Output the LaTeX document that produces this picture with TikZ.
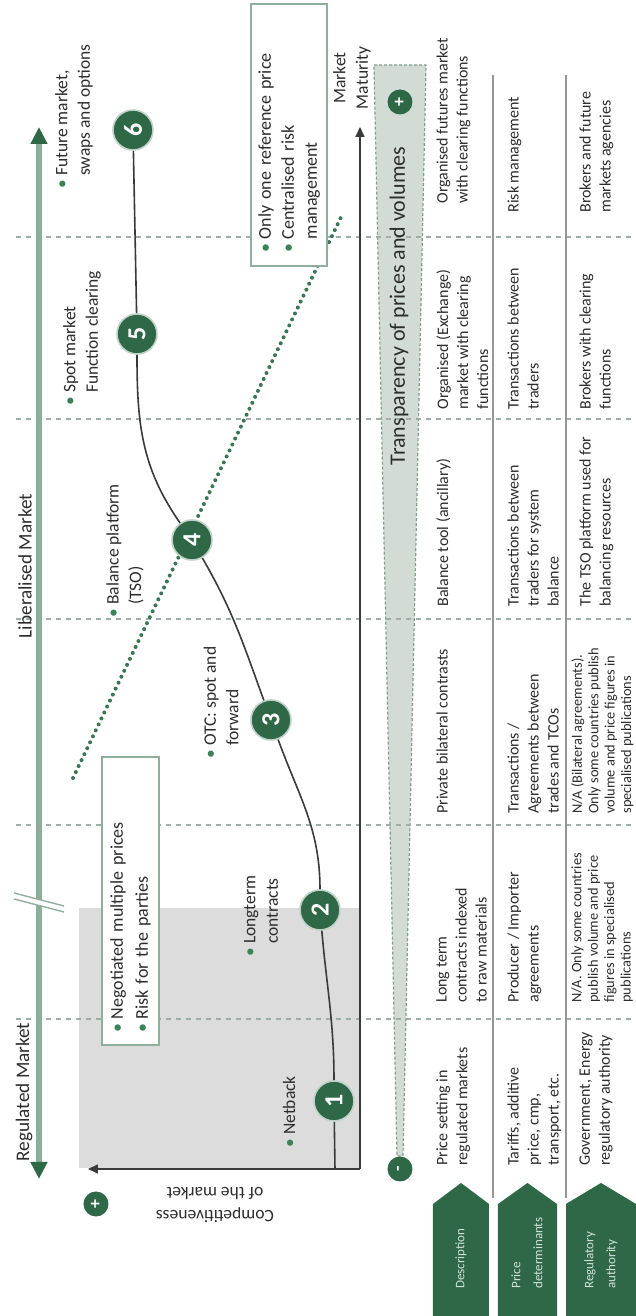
\documentclass[tikz,border=0pt]{standalone}
\usepackage{fontspec}
\setmainfont{Carlito}
\usetikzlibrary{arrows.meta}

\definecolor{dkgreen}{RGB}{46,104,70}
\definecolor{shaftgreen}{RGB}{141,174,154}
\definecolor{edgegreen}{RGB}{143,175,156}
\definecolor{bulgreen}{RGB}{58,130,88}
\definecolor{dotgreen}{RGB}{58,118,84}
\definecolor{dashgray}{RGB}{160,175,165}
\definecolor{zonegray}{RGB}{220,220,220}
\definecolor{barfill}{RGB}{210,220,212}
\definecolor{baredge}{RGB}{128,160,140}
\definecolor{axisgray}{RGB}{58,58,58}
\definecolor{rulegray}{RGB}{150,150,150}
\definecolor{labeltext}{RGB}{210,226,215}
\definecolor{celltext}{RGB}{45,45,45}

\newcommand{\bul}{\textcolor{bulgreen}{\textbullet}\hspace{2pt}}
\newcommand{\nobul}{\hphantom{\textbullet\hspace{2pt}}}

\tikzset{
	numcircle/.style={circle, fill=dkgreen, draw=white!70!dkgreen, line width=0.8pt, minimum size=20pt, inner sep=0pt, text=white, font=\fontsize{13}{13}\selectfont\bfseries},
	signcircle/.style={circle, fill=dkgreen, minimum size=12.5pt, inner sep=0pt, text=white, font=\fontsize{9}{9}\selectfont\bfseries},
	steplabel/.style={anchor=west, align=left, inner sep=0pt, text=celltext, font=\fontsize{8.75}{11.25}\selectfont},
	cell/.style={anchor=north west, align=left, inner sep=0pt, text=celltext, font=\fontsize{8}{10}\selectfont},
	longcell/.style={cell, font=\fontsize{7.2}{8.2}\selectfont},
	rowname/.style={anchor=west, align=left, inner sep=0pt, text=labeltext, font=\fontsize{6.5}{11}\selectfont},
	infobox/.style={draw=edgegreen, line width=0.85pt, fill=white, anchor=south west, align=left, inner ysep=0pt, text=celltext, font=\fontsize{9}{12.5}\selectfont},
	marketlabel/.style={inner sep=0pt, text=celltext, font=\fontsize{9.6}{11}\selectfont},
	axislabel/.style={inner sep=0pt, align=center, text=celltext, font=\fontsize{8.75}{11.25}\selectfont},
	marketarrow/.style={draw=shaftgreen, line width=3pt, arrows={Triangle[length=8.5pt,width=8pt,color=dkgreen]-Triangle[length=8.5pt,width=8pt,color=dkgreen]}},
	axis/.style={draw=axisgray, line width=0.8pt, -{Triangle[length=5pt,width=4.5pt]}},
	curve/.style={draw=axisgray, line width=0.8pt},
	colsep/.style={draw=dashgray, line width=0.8pt, dash pattern=on 2.5pt off 2.5pt},
	rowsep/.style={draw=rulegray, line width=1.2pt},
	transbar/.style={fill=barfill, draw=baredge, line width=0.6pt, dash pattern=on 1.5pt off 1pt},
	trend/.style={draw=dotgreen, line width=2pt, line cap=round, dash pattern=on 0pt off 3.3pt}
}

\begin{document}
\begin{tikzpicture}[x=0.5pt,y=0.5pt,rotate=90,transform shape]
	\fill[white] (0,0) rectangle (1316,636);
	\useasboundingbox (0,0) rectangle (1316,636);

	\fill[zonegray] (148,277) rectangle (408,557);
	\draw[transbar] (160,233) -- (1251,210) -- (1251,262) -- (160,239) -- cycle;
	\foreach \d in {297,491,697,897,1079}
		\draw[colsep] (\d,620) -- (\d,0);
	\foreach \r in {143,70}
		\draw[rowsep] (118,\r) -- (1241,\r);
	\foreach \lo/\hi in {147/203,79/138,0/70}
		\fill[dkgreen] (0,\lo) -- (112,\lo) -- (133,{(\lo+\hi)/2}) -- (112,\hi) -- (0,\hi) -- cycle;

	\coordinate (mleft) at (137,597);
	\coordinate (mright) at (1189,597);
	\draw[marketarrow] (mleft) -- (mright);
	\fill[white] (423,622) -- (410,572) -- (404,572) -- (417,622) -- cycle;
	\draw[edgegreen, line width=0.7pt] (423,622) -- (410,572) (417,622) -- (404,572);
	\node[marketlabel] (reglabel) at (224,612) {Regulated Market};
	\node[marketlabel] (liblabel) at (750,611) {Liberalised Market};

	\coordinate (origin) at (147,276);
	\coordinate (ytip) at (147,548);
	\coordinate (xtip) at (1189,276);
	\draw[axis] (origin) -- (ytip);
	\draw[axis] (origin) -- (xtip);
	\node[axislabel, rotate=90] (complabel) at (111,421) {Competitiveness\\of the market};
	\node[signcircle] (compplus) at (112,540) {+};
	\node[axislabel] (matlabel) at (1238,284) {Market\\Maturity};

	\coordinate (trendstart) at (538,563);
	\coordinate (trendend) at (1103,293);
	\draw[trend] (trendstart) -- (trendend);

	\node[numcircle] (n1) at (215,302) {1};
	\node[numcircle] (n2) at (406,316) {2};
	\node[numcircle] (n3) at (596,365) {3};
	\node[numcircle] (n4) at (776,444) {4};
	\node[numcircle] (n5) at (982,499) {5};
	\node[numcircle] (n6) at (1186,503) {6};
	\coordinate (c0) at (147,301);
	\draw[curve] (c0) -- (n1);
	\draw[curve] (n1) to[out=0,in=185] (n2) to[out=0,in=200] (n3) to[out=20,in=210] (n4) to[out=35,in=180] (n5) -- (n6);

	\node[steplabel] (netback) at (168,347) {\bul Netback};
	\node[steplabel] (longterm) at (359,375) {\bul Longterm\\\nobul contracts};
	\node[steplabel] (otc) at (557,415) {\bul OTC: spot and\\\nobul forward};
	\node[steplabel] (balance) at (698,511) {\bul Balance platform\\\nobul (TSO)};
	\node[steplabel] (spot) at (910,554) {\bul Spot market\\\nobul Function clearing};
	\node[steplabel] (future) at (1127,562) {\bul Future market,\\\nobul swaps and options};

	\node[infobox, text width=131pt, inner xsep=6.5pt, minimum height=28.5pt] (multibox) at (270,476) {\bul Negotiated multiple prices\\\bul Risk for the parties};
	\node[infobox, text width=117pt, inner xsep=7pt, minimum height=38pt, font=\fontsize{9}{11.5}\selectfont] (refbox) at (1049,308) {\bul Only one reference price\\\bul Centralised risk\\\nobul management};

	\node[signcircle] (minus) at (147,236) {-};
	\node[signcircle] (plus) at (1214,236) {+};
	\node[inner sep=0pt, text=celltext, font=\fontsize{11}{11}\selectfont] (transp) at (1010,237) {Transparency of prices and volumes};

	\node[rowname] (desc) at (27,175) {Description};
	\node[rowname] (pricedet) at (27,109) {Price\\determinants};
	\node[rowname] (regauth) at (27,35) {Regulatory\\authority};

	\node[cell] (desc0) at (150,200) {Price setting in\\regulated markets};
	\node[cell] (price0) at (150,129) {Tariffs, additive\\price, cmp,\\transport, etc.};
	\node[cell] (reg0) at (150,57) {Government, Energy\\regulatory authority};
	\node[cell] (desc1) at (313,200) {Long term\\contracts indexed\\to raw materials};
	\node[cell] (price1) at (313,129) {Producer / Importer\\agreements};
	\node[longcell] (reg1) at (313,65) {N/A. Only some countries\\publish volume and price\\figures in specialised\\publications};
	\node[cell] (desc2) at (502,200) {Private bilateral contrasts};
	\node[cell] (price2) at (502,129) {Transactions /\\Agreements between\\trades and TCOs};
	\node[longcell] (reg2) at (502,65) {N/A (Bilateral agreements).\\Only some countries publish\\volume and price figures in\\specialised publications};
	\node[cell] (desc3) at (709,200) {Balance tool (ancillary)};
	\node[cell] (price3) at (709,129) {Transactions between\\traders for system\\balance};
	\node[cell] (reg3) at (709,57) {The TSO platform used for\\balancing resources};
	\node[cell] (desc4) at (906,200) {Organised (Exchange)\\market with clearing\\functions};
	\node[cell] (price4) at (906,129) {Transactions between\\traders};
	\node[cell] (reg4) at (906,57) {Brokers with clearing\\functions};
	\node[cell] (desc5) at (1112,200) {Organised futures market\\with clearing functions};
	\node[cell] (price5) at (1103,129) {Risk management};
	\node[cell] (reg5) at (1103,57) {Brokers and future\\markets agencies};
\end{tikzpicture}
\end{document}
